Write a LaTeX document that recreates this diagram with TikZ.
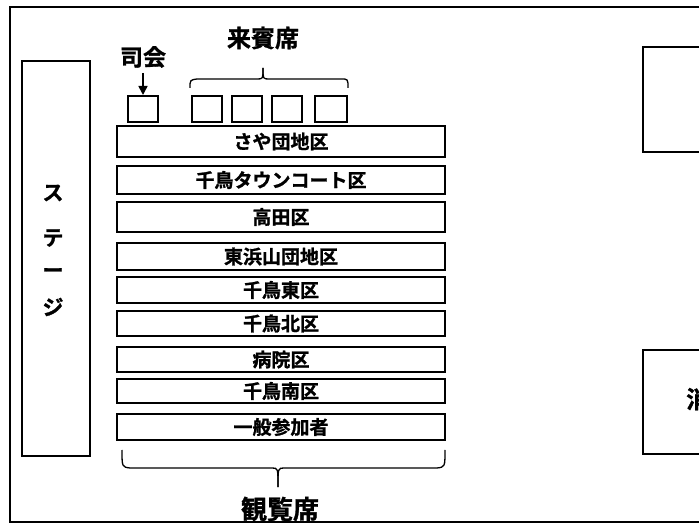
\documentclass[tikz,border=0pt]{standalone}
\usepackage{fontspec}
\setmainfont{Noto Sans CJK JP}[BoldFont={Noto Sans CJK JP Bold},BoldFeatures={FakeBold=1.2}]
\usetikzlibrary{arrows.meta}
\tikzset{
  frame/.style={draw, line width=2pt},
  rowbox/.style={draw, line width=2pt, minimum width=328pt, inner sep=0pt, font=\bfseries\fontsize{19}{19}\selectfont},
  seat/.style={draw, line width=2pt, minimum width=30pt, minimum height=26pt, inner sep=0pt},
  lbl/.style={inner sep=0pt, font=\bfseries\fontsize{23}{23}\selectfont},
  stagetxt/.style={inner sep=0pt, font=\bfseries\fontsize{21}{21}\selectfont},
  bracestyle/.style={line width=1.3pt}
}
\begin{document}
\begin{tikzpicture}[x=1pt,y=-1pt]
\useasboundingbox (0,0) rectangle (699,526);
\clip (0,0) rectangle (699,526);
\fill[white] (0,0) rectangle (699,526);
% outer frame
\draw[frame] (10,7) rectangle (720,522);
% stage
\node[draw, line width=2.6pt, minimum width=68pt, minimum height=395pt, inner sep=0pt] (stage) at (56,258.5) {};
\node[stagetxt] (s1) at (53,193) {ス};
\node[stagetxt] (s2) at (53,238) {テ};
\node[stagetxt] (s3) at (53,273) {ー};
\node[stagetxt] (s4) at (53,307) {ジ};
% rows
\node[rowbox, minimum height=31pt] (r1) at (281,141.5) {さや団地区};
\node[rowbox, minimum height=28pt] (r2) at (281,180) {千鳥タウンコート区};
\node[rowbox, minimum height=30pt] (r3) at (281,217) {高田区};
\node[rowbox, minimum height=27pt] (r4) at (281,256.5) {東浜山団地区};
\node[rowbox, minimum height=26pt] (r5) at (281,290) {千鳥東区};
\node[rowbox, minimum height=25pt] (r6) at (281,323.5) {千鳥北区};
\node[rowbox, minimum height=25pt] (r7) at (281,359.5) {病院区};
\node[rowbox, minimum height=24pt] (r8) at (281,391) {千鳥南区};
\node[rowbox, minimum height=26pt] (r9) at (281,427) {一般参加者};
% seats
\node[seat] (mc) at (143,109) {};
\node[seat] (g1) at (207,109) {};
\node[seat] (g2) at (247,109) {};
\node[seat] (g3) at (287,109) {};
\node[seat, minimum width=32pt] (g4) at (331,109) {};
% labels
\node[lbl] (mclbl) at (143,57) {司会};
\draw[line width=1.6pt, -{Triangle[length=9pt,width=9pt]}] (mclbl.south) ++(0,5) coordinate (mcstart) -- (mc.north);
\node[lbl, font=\bfseries\fontsize{24}{24}\selectfont] (guest) at (263,38) {来賓席};
\draw[bracestyle] (190,88) .. controls (190,80) .. (197,79) -- (257,79) .. controls (263,79) .. (263,68);
\draw[bracestyle] (263,68) .. controls (263,79) .. (269,79) -- (341,79) .. controls (348,79) .. (348,88);
\node[lbl, font=\bfseries\fontsize{26}{26}\selectfont] (aud) at (280,509) {観覧席};
\draw[bracestyle] (122,450) .. controls (122,467) .. (130,468) -- (272,468) .. controls (278,468) .. (278,487);
\draw[bracestyle] (278,487) .. controls (278,468) .. (284,468) -- (437,468) .. controls (445,467) .. (445,450);
% right side boxes (cut off)
\draw[frame] (643,47) rectangle (730,152);
\draw[frame] (643,350) rectangle (730,454);
\node[lbl, anchor=west, font=\bfseries\fontsize{24}{24}\selectfont] (right) at (686,399) {消};
\end{tikzpicture}
\end{document}
